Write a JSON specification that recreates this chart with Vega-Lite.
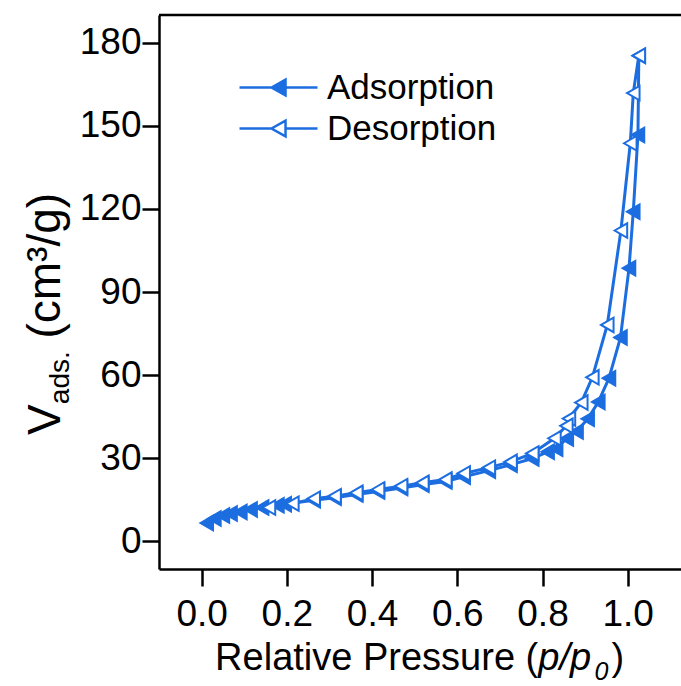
{
  "$schema": "https://vega.github.io/schema/vega-lite/v6.json",
  "width": 522,
  "height": 554,
  "autosize": "none",
  "padding": {"left": 159, "top": 15, "right": 0, "bottom": 117},
  "background": "white",
  "config": {
    "view": {"stroke": null},
    "font": "Liberation Sans",
    "axis": {
      "domainColor": "black",
      "domainWidth": 2.5,
      "tickColor": "black",
      "tickWidth": 2.5,
      "tickSize": 17,
      "labelFont": "Liberation Sans",
      "labelFontSize": 37,
      "labelColor": "black",
      "grid": false
    }
  },
  "datasets": {
    "adsorption": [
      {"p": 0.012, "v": 6.6, "series": "Adsorption"},
      {"p": 0.030, "v": 8.2, "series": "Adsorption"},
      {"p": 0.050, "v": 9.3, "series": "Adsorption"},
      {"p": 0.068, "v": 10.0, "series": "Adsorption"},
      {"p": 0.091, "v": 10.6, "series": "Adsorption"},
      {"p": 0.115, "v": 11.5, "series": "Adsorption"},
      {"p": 0.142, "v": 12.2, "series": "Adsorption"},
      {"p": 0.178, "v": 13.0, "series": "Adsorption"},
      {"p": 0.195, "v": 13.4, "series": "Adsorption"},
      {"p": 0.263, "v": 14.8, "series": "Adsorption"},
      {"p": 0.312, "v": 15.7, "series": "Adsorption"},
      {"p": 0.363, "v": 16.9, "series": "Adsorption"},
      {"p": 0.414, "v": 18.0, "series": "Adsorption"},
      {"p": 0.468, "v": 19.2, "series": "Adsorption"},
      {"p": 0.518, "v": 20.4, "series": "Adsorption"},
      {"p": 0.572, "v": 21.6, "series": "Adsorption"},
      {"p": 0.615, "v": 23.3, "series": "Adsorption"},
      {"p": 0.674, "v": 25.5, "series": "Adsorption"},
      {"p": 0.725, "v": 27.6, "series": "Adsorption"},
      {"p": 0.776, "v": 29.9, "series": "Adsorption"},
      {"p": 0.812, "v": 32.3, "series": "Adsorption"},
      {"p": 0.832, "v": 33.4, "series": "Adsorption"},
      {"p": 0.857, "v": 37.1, "series": "Adsorption"},
      {"p": 0.880, "v": 39.6, "series": "Adsorption"},
      {"p": 0.906, "v": 44.2, "series": "Adsorption"},
      {"p": 0.931, "v": 50.3, "series": "Adsorption"},
      {"p": 0.956, "v": 58.9, "series": "Adsorption"},
      {"p": 0.983, "v": 73.6, "series": "Adsorption"},
      {"p": 1.003, "v": 98.6, "series": "Adsorption"},
      {"p": 1.013, "v": 119.0, "series": "Adsorption"},
      {"p": 1.024, "v": 146.7, "series": "Adsorption"},
      {"p": 1.026, "v": 175.3, "series": "Adsorption"}
    ],
    "desorption": [
      {"p": 1.026, "v": 175.3, "series": "Desorption"},
      {"p": 1.013, "v": 161.8, "series": "Desorption"},
      {"p": 1.006, "v": 143.7, "series": "Desorption"},
      {"p": 0.984, "v": 112.2, "series": "Desorption"},
      {"p": 0.952, "v": 78.1, "series": "Desorption"},
      {"p": 0.917, "v": 59.2, "series": "Desorption"},
      {"p": 0.891, "v": 50.1, "series": "Desorption"},
      {"p": 0.862, "v": 44.3, "series": "Desorption"},
      {"p": 0.856, "v": 41.7, "series": "Desorption"},
      {"p": 0.828, "v": 37.2, "series": "Desorption"},
      {"p": 0.776, "v": 31.7, "series": "Desorption"},
      {"p": 0.725, "v": 28.7, "series": "Desorption"},
      {"p": 0.674, "v": 26.6, "series": "Desorption"},
      {"p": 0.615, "v": 24.5, "series": "Desorption"},
      {"p": 0.572, "v": 22.3, "series": "Desorption"},
      {"p": 0.518, "v": 21.1, "series": "Desorption"},
      {"p": 0.468, "v": 19.9, "series": "Desorption"},
      {"p": 0.414, "v": 18.7, "series": "Desorption"},
      {"p": 0.363, "v": 17.5, "series": "Desorption"},
      {"p": 0.312, "v": 16.3, "series": "Desorption"},
      {"p": 0.263, "v": 15.4, "series": "Desorption"},
      {"p": 0.213, "v": 13.6, "series": "Desorption"},
      {"p": 0.158, "v": 12.2, "series": "Desorption"}
    ]
  },
  "layer": [
    {
      "data": {"values": [{}]},
      "mark": {"type": "rule", "color": "black", "strokeWidth": 2.5},
      "encoding": {
        "y": {
          "datum": 190,
          "type": "quantitative",
          "scale": {"domain": [-10, 190], "nice": false, "zero": false},
          "axis": {"title": null, "values": [0, 30, 60, 90, 120, 150, 180], "labelPadding": 1}
        }
      }
    },
    {
      "data": {"name": "adsorption"},
      "mark": {"type": "line", "color": "#1c6ee0", "strokeWidth": 3},
      "encoding": {
        "x": {
          "field": "p",
          "type": "quantitative",
          "scale": {"domain": [-0.1, 1.125], "nice": false, "zero": false},
          "axis": {"title": null, "values": [0, 0.2, 0.4, 0.6, 0.8, 1.0], "format": ".1f", "labelPadding": 10}
        },
        "y": {
          "field": "v",
          "type": "quantitative",
          "scale": {"domain": [-10, 190], "nice": false, "zero": false},
          "axis": {"title": null, "values": [0, 30, 60, 90, 120, 150, 180], "labelPadding": 1}
        }
      }
    },
    {
      "data": {"name": "adsorption"},
      "mark": {"type": "point", "shape": "triangle-left", "size": 210, "stroke": "#1c6ee0", "strokeWidth": 2, "opacity": 1, "fillOpacity": 1},
      "encoding": {
        "x": {
          "field": "p",
          "type": "quantitative",
          "scale": {"domain": [-0.1, 1.125], "nice": false, "zero": false},
          "axis": {"title": null, "values": [0, 0.2, 0.4, 0.6, 0.8, 1.0], "format": ".1f", "labelPadding": 10}
        },
        "y": {
          "field": "v",
          "type": "quantitative",
          "scale": {"domain": [-10, 190], "nice": false, "zero": false},
          "axis": {"title": null, "values": [0, 30, 60, 90, 120, 150, 180], "labelPadding": 1}
        },
        "fill": {
          "field": "series",
          "type": "nominal",
          "scale": {"domain": ["Adsorption", "Desorption"], "range": ["#1c6ee0", "white"]},
          "legend": {
            "title": null,
            "orient": "none",
            "legendX": 79,
            "legendY": 52,
            "symbolType": "M-1,0H-0.18M0.18,0H1M-0.18,0L0.18,-0.2L0.18,0.2Z",
            "symbolSize": 6084,
            "symbolStrokeColor": "#1c6ee0",
            "symbolStrokeWidth": 2.5,
            "symbolOpacity": 1,
            "labelFont": "Liberation Sans",
            "labelFontSize": 35,
            "labelColor": "black",
            "labelOffset": 8,
            "labelLimit": 0,
            "clipHeight": 41,
            "rowPadding": 0
          }
        }
      }
    },
    {
      "data": {"name": "desorption"},
      "mark": {"type": "line", "color": "#1c6ee0", "strokeWidth": 3},
      "encoding": {
        "x": {
          "field": "p",
          "type": "quantitative",
          "scale": {"domain": [-0.1, 1.125], "nice": false, "zero": false},
          "axis": {"title": null, "values": [0, 0.2, 0.4, 0.6, 0.8, 1.0], "format": ".1f", "labelPadding": 10}
        },
        "y": {
          "field": "v",
          "type": "quantitative",
          "scale": {"domain": [-10, 190], "nice": false, "zero": false},
          "axis": {"title": null, "values": [0, 30, 60, 90, 120, 150, 180], "labelPadding": 1}
        }
      }
    },
    {
      "data": {"name": "desorption"},
      "mark": {"type": "point", "shape": "triangle-left", "size": 210, "stroke": "#1c6ee0", "strokeWidth": 2, "opacity": 1, "fillOpacity": 1},
      "encoding": {
        "x": {
          "field": "p",
          "type": "quantitative",
          "scale": {"domain": [-0.1, 1.125], "nice": false, "zero": false},
          "axis": {"title": null, "values": [0, 0.2, 0.4, 0.6, 0.8, 1.0], "format": ".1f", "labelPadding": 10}
        },
        "y": {
          "field": "v",
          "type": "quantitative",
          "scale": {"domain": [-10, 190], "nice": false, "zero": false},
          "axis": {"title": null, "values": [0, 30, 60, 90, 120, 150, 180], "labelPadding": 1}
        },
        "fill": {"field": "series", "type": "nominal"}
      }
    },
    {
      "data": {"values": [{"label": "Relative Pressure ("}]},
      "mark": {"type": "text", "font": "Liberation Sans", "fontSize": 38, "align": "right", "baseline": "alphabetic", "color": "black"},
      "encoding": {
        "text": {"field": "label"},
        "x": {"datum": 0.79, "type": "quantitative", "scale": {"domain": [-0.1, 1.125], "nice": false, "zero": false}, "axis": {"title": null, "values": [0, 0.2, 0.4, 0.6, 0.8, 1.0], "format": ".1f", "labelPadding": 10}},
        "y": {"datum": -46.5, "type": "quantitative", "scale": {"domain": [-10, 190], "nice": false, "zero": false}, "axis": {"title": null, "values": [0, 30, 60, 90, 120, 150, 180], "labelPadding": 1}}
      }
    },
    {
      "data": {"values": [{"label": "p/p"}]},
      "mark": {"type": "text", "font": "Liberation Sans", "fontStyle": "italic", "fontSize": 38, "align": "left", "baseline": "alphabetic", "color": "black"},
      "encoding": {
        "text": {"field": "label"},
        "x": {"datum": 0.79, "type": "quantitative", "scale": {"domain": [-0.1, 1.125], "nice": false, "zero": false}, "axis": {"title": null, "values": [0, 0.2, 0.4, 0.6, 0.8, 1.0], "format": ".1f", "labelPadding": 10}},
        "y": {"datum": -46.5, "type": "quantitative", "scale": {"domain": [-10, 190], "nice": false, "zero": false}, "axis": {"title": null, "values": [0, 30, 60, 90, 120, 150, 180], "labelPadding": 1}}
      }
    },
    {
      "data": {"values": [{"label": "0"}]},
      "mark": {"type": "text", "font": "Liberation Sans", "fontStyle": "italic", "fontSize": 25, "align": "left", "baseline": "alphabetic", "color": "black"},
      "encoding": {
        "text": {"field": "label"},
        "x": {"datum": 0.922, "type": "quantitative", "scale": {"domain": [-0.1, 1.125], "nice": false, "zero": false}, "axis": {"title": null, "values": [0, 0.2, 0.4, 0.6, 0.8, 1.0], "format": ".1f", "labelPadding": 10}},
        "y": {"datum": -50.1, "type": "quantitative", "scale": {"domain": [-10, 190], "nice": false, "zero": false}, "axis": {"title": null, "values": [0, 30, 60, 90, 120, 150, 180], "labelPadding": 1}}
      }
    },
    {
      "data": {"values": [{"label": ")"}]},
      "mark": {"type": "text", "font": "Liberation Sans", "fontSize": 38, "align": "left", "baseline": "alphabetic", "color": "black"},
      "encoding": {
        "text": {"field": "label"},
        "x": {"datum": 0.962, "type": "quantitative", "scale": {"domain": [-0.1, 1.125], "nice": false, "zero": false}, "axis": {"title": null, "values": [0, 0.2, 0.4, 0.6, 0.8, 1.0], "format": ".1f", "labelPadding": 10}},
        "y": {"datum": -46.5, "type": "quantitative", "scale": {"domain": [-10, 190], "nice": false, "zero": false}, "axis": {"title": null, "values": [0, 30, 60, 90, 120, 150, 180], "labelPadding": 1}}
      }
    },
    {
      "data": {"values": [{"label": "V"}]},
      "mark": {"type": "text", "font": "Liberation Sans", "fontSize": 46, "angle": 270, "align": "left", "baseline": "alphabetic", "color": "black"},
      "encoding": {
        "text": {"field": "label"},
        "x": {"datum": -0.332, "type": "quantitative", "scale": {"domain": [-0.1, 1.125], "nice": false, "zero": false}, "axis": {"title": null, "values": [0, 0.2, 0.4, 0.6, 0.8, 1.0], "format": ".1f", "labelPadding": 10}},
        "y": {"datum": 38.4, "type": "quantitative", "scale": {"domain": [-10, 190], "nice": false, "zero": false}, "axis": {"title": null, "values": [0, 30, 60, 90, 120, 150, 180], "labelPadding": 1}}
      }
    },
    {
      "data": {"values": [{"label": "ads."}]},
      "mark": {"type": "text", "font": "Liberation Sans", "fontSize": 28, "angle": 270, "align": "left", "baseline": "alphabetic", "color": "black"},
      "encoding": {
        "text": {"field": "label"},
        "x": {"datum": -0.311, "type": "quantitative", "scale": {"domain": [-0.1, 1.125], "nice": false, "zero": false}, "axis": {"title": null, "values": [0, 0.2, 0.4, 0.6, 0.8, 1.0], "format": ".1f", "labelPadding": 10}},
        "y": {"datum": 49.5, "type": "quantitative", "scale": {"domain": [-10, 190], "nice": false, "zero": false}, "axis": {"title": null, "values": [0, 30, 60, 90, 120, 150, 180], "labelPadding": 1}}
      }
    },
    {
      "data": {"values": [{"label": "(cm³/g)"}]},
      "mark": {"type": "text", "font": "Liberation Sans", "fontSize": 46, "angle": 270, "align": "left", "baseline": "alphabetic", "color": "black"},
      "encoding": {
        "text": {"field": "label"},
        "x": {"datum": -0.332, "type": "quantitative", "scale": {"domain": [-0.1, 1.125], "nice": false, "zero": false}, "axis": {"title": null, "values": [0, 0.2, 0.4, 0.6, 0.8, 1.0], "format": ".1f", "labelPadding": 10}},
        "y": {"datum": 73.2, "type": "quantitative", "scale": {"domain": [-10, 190], "nice": false, "zero": false}, "axis": {"title": null, "values": [0, 30, 60, 90, 120, 150, 180], "labelPadding": 1}}
      }
    }
  ]
}
